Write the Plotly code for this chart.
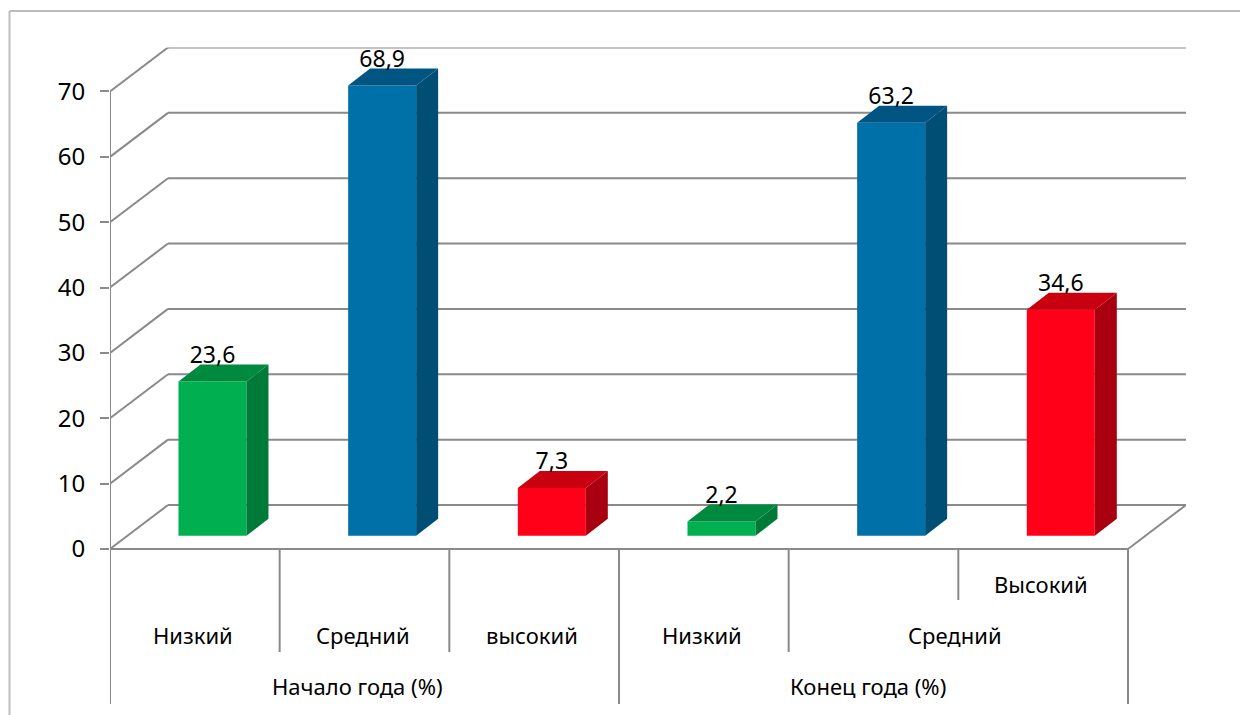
import plotly.graph_objects as go

groups = ["Начало года (%)", "Конец года (%)"]
levels = ["Низкий", "Средний", "высокий", "Низкий", "Средний", "Высокий"]
values = [23.6, 68.9, 7.3, 2.2, 63.2, 34.6]
value_labels = ["23,6", "68,9", "7,3", "2,2", "63,2", "34,6"]
front_colors = ["#00B050", "#0070A8", "#FF0018", "#00B050", "#0070A8", "#FF0018"]
side_colors = ["#007A38", "#004E74", "#A80010", "#007A38", "#004E74", "#A80010"]
top_colors = ["#008A40", "#005582", "#C8000F", "#008A40", "#005582", "#C8000F"]
y_ticks = [0, 10, 20, 30, 40, 50, 60, 70]

W, H = 1240, 715
PX_X = 1018 / 6            # px per category
PX_Y = 6.536               # px per value unit
X0, Y0 = 110, 549          # pixel position of the axis origin
XR, YT, YB = 1186, 47.5, 712
FONT = "Noto Sans"
FS = 23
FS_TICK = 24
FS_CAT = 22
TEXT = "#000000"
GRID = "#8A8A8A"

x_max = (XR - X0) / PX_X
y_max = (Y0 - YT) / PX_Y
y_min = (Y0 - YB) / PX_Y
wall_dx, wall_dy = 58 / PX_X, 44 / PX_Y
bar_dx, bar_dy = 22 / PX_X, 17 / PX_Y
bar_base = 13.2 / PX_Y
bar_w = 68 / PX_X
bar_shift = 0.104

fig = go.Figure()
centers = [i + 0.5 + bar_shift for i in range(len(values))]
fig.add_bar(x=centers, y=values, base=bar_base, width=bar_w,
            marker=dict(color=front_colors, line_width=0), showlegend=False)

for c, v, sc, tc in zip(centers, values, side_colors, top_colors):
    l, r, t = c - bar_w / 2, c + bar_w / 2, bar_base + v
    fig.add_scatter(x=[r, r + bar_dx, r + bar_dx, r, r],
                    y=[bar_base, bar_base + bar_dy, t + bar_dy, t, bar_base],
                    fill="toself", fillcolor=sc, mode="none",
                    hoverinfo="skip", showlegend=False)
    fig.add_scatter(x=[l, l + bar_dx, r + bar_dx, r, l],
                    y=[t, t + bar_dy, t + bar_dy, t, t],
                    fill="toself", fillcolor=tc, mode="none",
                    hoverinfo="skip", showlegend=False)

fig.add_scatter(x=centers, y=[bar_base + v + bar_dy - 0.6 for v in values],
                mode="text", text=value_labels, textposition="top center",
                textfont=dict(family=FONT, size=FS, color=TEXT),
                cliponaxis=False, hoverinfo="skip", showlegend=False)

shapes = []
def line(x0, y0, x1, y1, color=GRID, width=2, layer="below", ref="data"):
    d = dict(type="line", x0=x0, y0=y0, x1=x1, y1=y1, layer=layer,
             line=dict(color=color, width=width))
    d.update(xref="x", yref="y") if ref == "data" else d.update(xref="paper", yref="paper")
    shapes.append(d)

n = len(values)
for t in y_ticks:
    line(0, t, wall_dx, t + wall_dy)
    line(wall_dx, t + wall_dy, x_max, t + wall_dy)
# value axis and floor outline
line(0, y_ticks[0], 0, y_ticks[-1])
line(0, 0, n, 0)
line(n, 0, n + wall_dx, wall_dy)

# multi-level category axis
row1, row2, row3 = -5.4, -13.2, -21
deep = (Y0 - 704) / PX_Y
mid = (Y0 - 652) / PX_Y
short = (Y0 - 600) / PX_Y
line(0, 0, 0, deep)
line(n, 0, n, deep)
line(3, 0, 3, deep)
line(1, 0, 1, mid)
line(2, 0, 2, mid)
line(4, 0, 4, mid)
line(5, 0, 5, short)

# outer frame
line(9.5 / W, 0, 9.5 / W, 1 - 11 / H, color="#BDBDBD", width=2, ref="paper")
line(9.5 / W, 1 - 11 / H, 1, 1 - 11 / H, color="#BDBDBD", width=2, ref="paper")

ann = []
def label(x, y, s):
    ann.append(dict(x=x, y=y, text=s, showarrow=False, xref="x", yref="y",
                    xanchor="center", yanchor="middle",
                    font=dict(family=FONT, size=FS_CAT, color=TEXT)))

for i, s in enumerate(levels):
    if i == 4:
        label(i + 0.98, row2, s)
    elif i == 5:
        label(i + 0.49, row1, s)
    else:
        label(i + 0.49, row2, s)
label(1.46, row3, groups[0])
label(4.47, row3, groups[1])

fig.update_layout(
    width=W, height=H, margin=dict(l=0, r=0, t=0, b=0),
    paper_bgcolor="white", plot_bgcolor="white", showlegend=False,
    shapes=shapes, annotations=ann,
    xaxis=dict(domain=[X0 / W, XR / W], range=[0, x_max], showgrid=False,
               zeroline=False, showline=False, showticklabels=False, ticks=""),
    yaxis=dict(domain=[(H - YB) / H, (H - YT) / H], range=[y_min, y_max],
               tickvals=y_ticks, ticks="outside", ticklen=9, tickwidth=2,
               tickcolor=GRID, showgrid=False, zeroline=False, showline=False,
               ticklabelstandoff=10,
               tickfont=dict(family=FONT, size=FS_TICK, color=TEXT)),
)
fig.write_html("out.html", config=dict(displayModeBar=False),
               post_script="document.body.style.margin='0';document.body.style.overflow='hidden';")
